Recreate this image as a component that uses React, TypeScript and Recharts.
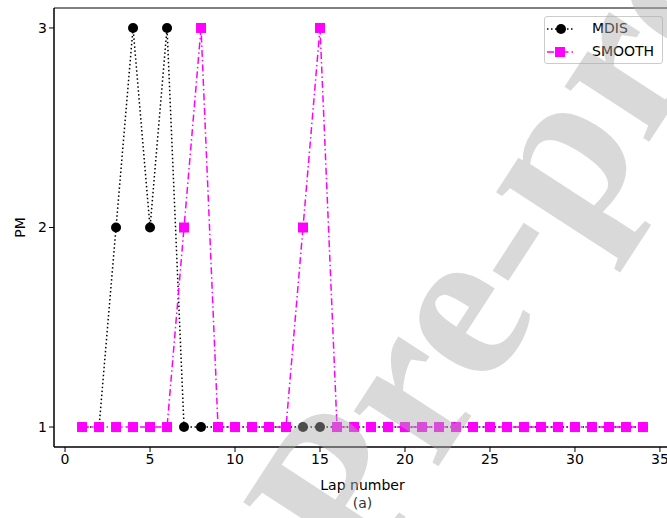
import { LineChart, Line, XAxis, YAxis, Label, ReferenceArea } from "recharts";

const laps = [1, 2, 3, 4, 5, 6, 7, 8, 9, 10, 11, 12, 13, 14, 15, 16, 17, 18, 19, 20, 21, 22, 23, 24, 25, 26, 27, 28, 29, 30, 31, 32, 33, 34];
const mdis = [1, 1, 2, 3, 2, 3, 1, 1, 1, 1, 1, 1, 1, 1, 1, 1, 1, 1, 1, 1, 1, 1, 1, 1, 1, 1, 1, 1, 1, 1, 1, 1, 1, 1];
const smooth = [1, 1, 1, 1, 1, 1, 2, 3, 1, 1, 1, 1, 1, 2, 3, 1, 1, 1, 1, 1, 1, 1, 1, 1, 1, 1, 1, 1, 1, 1, 1, 1, 1, 1];
const xTicks = [0, 5, 10, 15, 20, 25, 30, 35];
const yTicks = [1, 2, 3];

const data = laps.map((lap, i) => ({ lap, mdis: mdis[i], smooth: smooth[i] }));

const font = "'DejaVu Sans', sans-serif";
const MAGENTA = "#ff00ff";

const SquareDot = (props: any) => {
  const { cx, cy, index } = props;
  if (cx == null || cy == null) return null;
  return <rect key={"sq" + index} x={cx - 5} y={cy - 5} width={10} height={10} fill={MAGENTA} />;
};

// legend drawn as an overlay so it doesn't eat plot space
const LegendBox = () => (
  <div
    style={{
      position: "absolute",
      left: 544,
      top: 16,
      width: 119,
      border: "1px solid #cccccc",
      borderRadius: 3,
      background: "rgba(255,255,255,0.8)",
      fontFamily: font,
      fontSize: 14,
      color: "#000",
      padding: "0 0 0 2px",
      lineHeight: "23px",
      boxSizing: "border-box",
    }}
  >
    <div style={{ display: "flex", alignItems: "center" }}>
      <svg width={26} height={14} style={{ marginRight: 19 }}>
        <line x1={0} y1={7} x2={26} y2={7} stroke="#000" strokeWidth={1.5} strokeDasharray="1.5 2.5" />
        <circle cx={14} cy={7} r={5} fill="#000" />
      </svg>
      MDIS
    </div>
    <div style={{ display: "flex", alignItems: "center" }}>
      <svg width={26} height={14} style={{ marginRight: 19 }}>
        <line x1={0} y1={7} x2={26} y2={7} stroke={MAGENTA} strokeWidth={1.5} strokeDasharray="7 3 1.5 3" />
        <rect x={8} y={2} width={10} height={10} fill={MAGENTA} />
      </svg>
      SMOOTH
    </div>
  </div>
);

const App = () => {
  return (
    <div style={{ position: "absolute", left: 0, top: 0, width: 667, height: 518, overflow: "hidden", background: "#fff" }}>
      <LineChart width={680} height={518} data={data} margin={{ top: 8, right: 9, left: 0, bottom: 0 }}>
        <XAxis
          dataKey="lap"
          type="number"
          domain={[-0.65, 35.65]}
          ticks={xTicks}
          allowDataOverflow
          height={71}
          stroke="#000"
          tickSize={5}
          tick={{ fill: "#000", fontSize: 14, fontFamily: font }}
        >
          <Label value="Lap number" position="insideTop" offset={33} style={{ fontSize: 14, fontFamily: font, fill: "#000" }} />
          <Label value="(a)" position="insideTop" offset={51} style={{ fontSize: 14, fontFamily: font, fill: "#333" }} />
        </XAxis>
        <YAxis
          type="number"
          domain={[0.9, 3.1]}
          ticks={yTicks}
          allowDataOverflow
          width={54}
          stroke="#000"
          tickSize={5}
          tick={{ fill: "#000", fontSize: 14, fontFamily: font }}
        >
          <Label value="PM" angle={-90} position="insideLeft" offset={20} style={{ fontSize: 14, fontFamily: font, fill: "#000", textAnchor: "middle" }} />
        </YAxis>
        <ReferenceArea x1={-0.65} x2={35.65} y1={0.9} y2={3.1} fill="none" stroke="#000" strokeWidth={1} />
        <Line
          dataKey="mdis"
          name="MDIS"
          stroke="#000"
          strokeWidth={1.5}
          strokeDasharray="1.5 2.5"
          dot={{ r: 5, fill: "#000", stroke: "none" }}
          isAnimationActive={false}
        />
        <Line
          dataKey="smooth"
          name="SMOOTH"
          stroke={MAGENTA}
          strokeWidth={1.5}
          strokeDasharray="7 3 1.5 3"
          dot={SquareDot}
          isAnimationActive={false}
        />
      </LineChart>
      <LegendBox />
      <svg width={667} height={518} style={{ position: "absolute", left: 0, top: 0, pointerEvents: "none" }}>
        <text
          x={0}
          y={0}
          transform="translate(362 584) rotate(-57)"
          fontFamily="'Liberation Serif', serif"
          fontWeight="bold"
          fontSize={220}
          fill="#aaaaaa"
          fillOpacity={0.45}
        >
          Pre-proof
        </text>
      </svg>
    </div>
  );
};

export default App;
